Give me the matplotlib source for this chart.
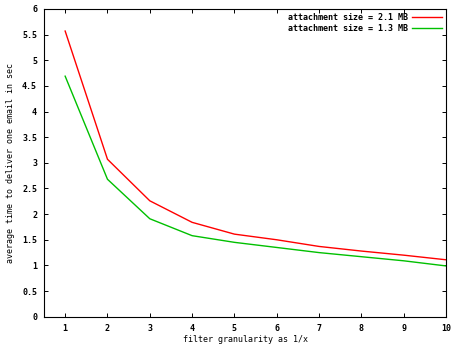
import matplotlib
matplotlib.use("Agg")
import matplotlib.pyplot as plt

x = [1, 2, 3, 4, 5, 6, 7, 8, 9, 10]
red_21mb = [5.57, 3.07, 2.26, 1.84, 1.61, 1.50, 1.37, 1.28, 1.20, 1.11]
green_13mb = [4.69, 2.68, 1.91, 1.58, 1.45, 1.35, 1.25, 1.17, 1.09, 0.99]
labels = ["attachment size = 2.1 MB", "attachment size = 1.3 MB"]
yticks = [0, 0.5, 1, 1.5, 2, 2.5, 3, 3.5, 4, 4.5, 5, 5.5, 6]
ytick_labels = ["0", "0.5", "1", "1.5", "2", "2.5", "3", "3.5", "4", "4.5", "5", "5.5", "6"]

plt.rcParams['font.family'] = ['DejaVu Sans Mono']
plt.rcParams['font.weight'] = 'bold'
fs = 6

fig = plt.figure(figsize=(4.61, 3.46), dpi=100)
ax = fig.add_axes([44/461, 1-316.7/346, (446-44)/461, (316.7-9)/346])

ax.plot(x, red_21mb, color="#ff0000", lw=1.0, label=labels[0])
ax.plot(x, green_13mb, color="#00c000", lw=1.0, label=labels[1])

ax.set_xlim(0.5, 10)
ax.set_ylim(0, 6)
ax.set_xticks(x)
ax.set_xticklabels([str(v) for v in x], fontsize=fs)
ax.set_yticks(yticks)
ax.set_yticklabels(ytick_labels, fontsize=fs)
ax.tick_params(direction="in", length=2.8, width=0.7, top=True, right=True, pad=5)
for s in ax.spines.values():
    s.set_linewidth(0.8)

ax.set_xlabel("filter granularity as 1/x", fontsize=fs, labelpad=2)
ax.set_ylabel("average time to deliver one email in sec", fontsize=fs, labelpad=5)

leg = ax.legend(loc="upper right", fontsize=fs, frameon=False, markerfirst=False,
                handlelength=3.6, handletextpad=0.5, borderaxespad=0.2,
                labelspacing=0.2, borderpad=0.3)

fig.savefig("out.png", dpi=100)
